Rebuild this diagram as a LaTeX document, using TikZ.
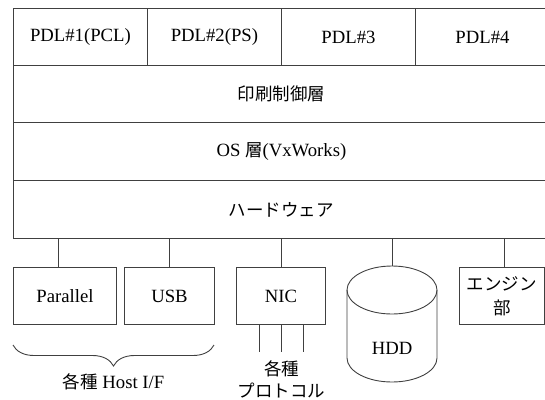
\documentclass[tikz,border=0pt]{standalone}
\usepackage{fontspec}
\setmainfont{Liberation Serif}
\newfontfamily\lat{Liberation Serif}
\newfontfamily\jp{Noto Sans CJK JP}
\usetikzlibrary{decorations.pathreplacing}
\begin{document}
\begin{tikzpicture}[x=1pt,y=-1pt,line width=0.9pt,
  every node/.style={font=\lat\fontsize{18.7}{22}\selectfont, inner sep=0pt},
  cell/.style={draw=black!75, minimum height=57pt, anchor=north west},
  wire/.style={draw=black!75, line width=0.9pt},
  jpt/.style={font=\jp\fontsize{17.5}{22}\selectfont}]
\clip (0,0) rectangle (545,399);
% top stack
\node[cell, minimum width=134pt] (p1) at (13,8) {PDL\#1(PCL)};
\node[cell, minimum width=134pt] (p2) at (147,8) {PDL\#2(PS)};
\node[cell, minimum width=134pt] (p3) at (281,8) {PDL\#3};
\node[cell, minimum width=134pt] (p4) at (415,8) {PDL\#4};
\node[cell, minimum width=536pt, jpt] (ctl) at (13,65) {印刷制御層};
\node[cell, minimum width=536pt, minimum height=58pt] (os) at (13,122) {OS {\jp\fontsize{17.5}{22}\selectfont 層}(VxWorks)};
\node[cell, minimum width=536pt, minimum height=58pt, jpt] (hw) at (13,180) {ハードウェア};
% devices
\node[cell, minimum width=103pt] (par) at (13,267) {Parallel};
\node[cell, minimum width=90pt] (usb) at (124,267) {USB};
\node[cell, minimum width=89pt] (nic) at (236,267) {NIC};
\node[cell, minimum width=85pt, align=center, font=\jp\fontsize{17.5}{24}\selectfont] (eng) at (459,267) {エンジン\\部};
% HDD cylinder
\draw[wire] (347,290) -- (347,358) arc[start angle=180, end angle=360, x radius=45pt, y radius=24pt] -- (437,290);
\draw[wire] (392,290) ellipse[x radius=45pt, y radius=24pt];
\node (hdd) at (392,348) {HDD};
\coordinate (hddtop) at (392,266);
% connectors
\coordinate (pc) at (58,267);
\coordinate (ec) at (504,267);
\draw[wire] (pc) -- (pc |- hw.south);
\draw[wire] (usb.north) -- (usb.north |- hw.south);
\draw[wire] (nic.north) -- (nic.north |- hw.south);
\draw[wire] (hddtop) -- (hddtop |- hw.south);
\draw[wire] (ec) -- (ec |- hw.south);
% protocol lines
\coordinate (n1) at (259,352);
\coordinate (n2) at (281,352);
\coordinate (n3) at (303,352);
\draw[wire] (n1 |- nic.south) -- (n1);
\draw[wire] (n2 |- nic.south) -- (n2);
\draw[wire] (n3 |- nic.south) -- (n3);
\node[align=center, font=\jp\fontsize{17.5}{22}\selectfont] (proto) at (281.5,379) {各種\\プロトコル};
% brace
\coordinate (bl) at (13,345);
\coordinate (br) at (214,345);
\draw[wire, decorate, decoration={brace, mirror, amplitude=21pt}] (bl) -- (br);
\node (hostif) at (113.5,382) {{\jp\fontsize{17.5}{22}\selectfont 各種} Host I/F};
\end{tikzpicture}
\end{document}
